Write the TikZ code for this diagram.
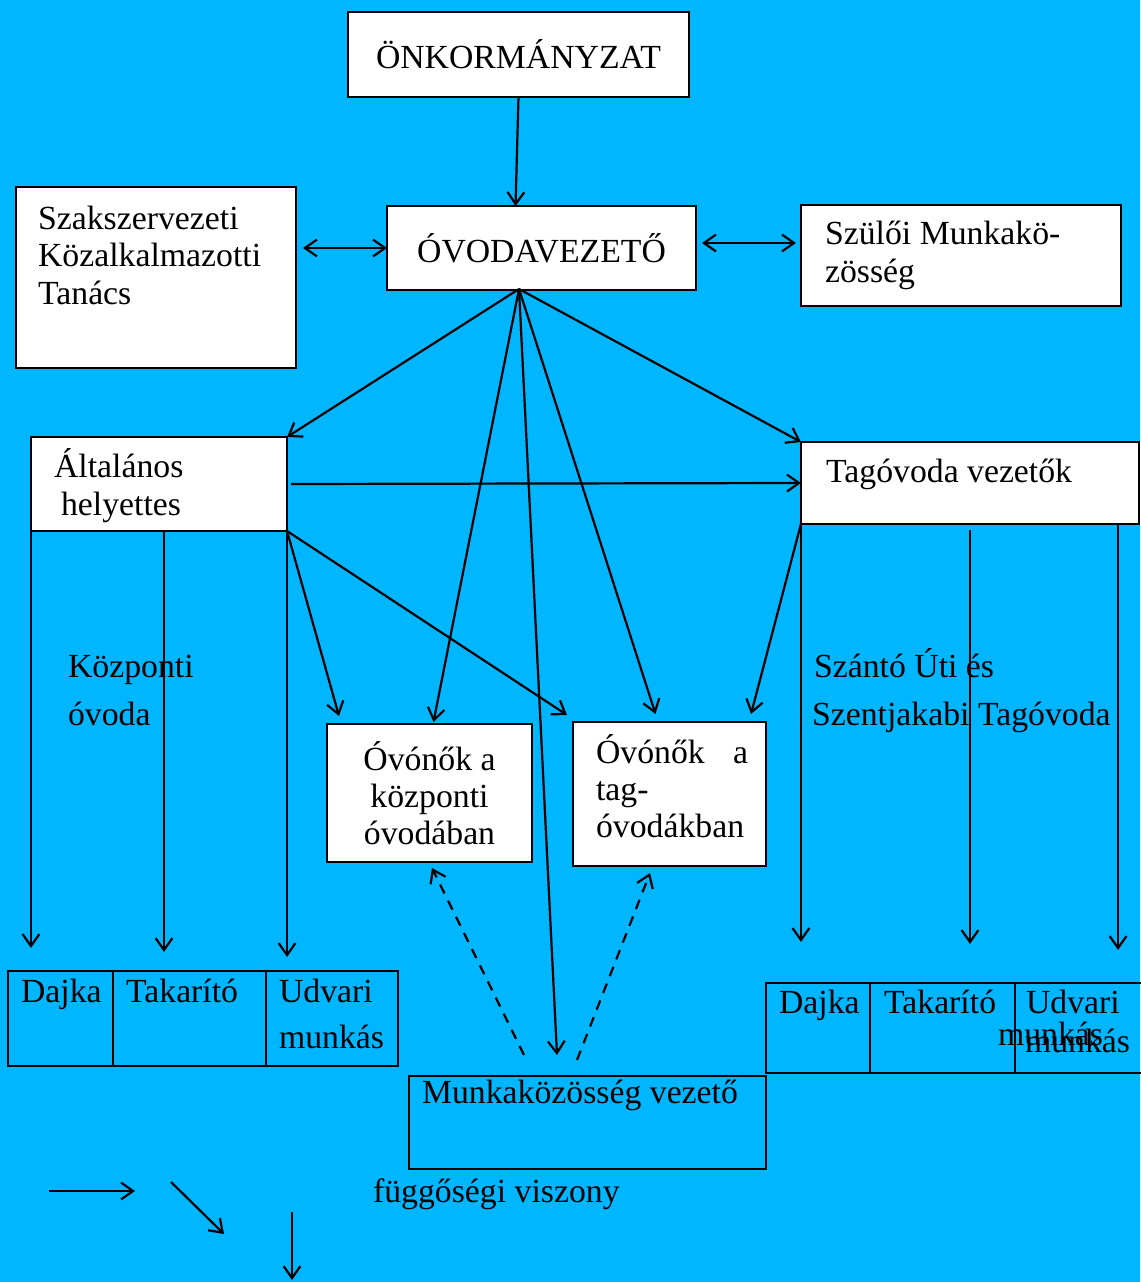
\documentclass[tikz,border=0pt]{standalone}
\usepackage{fontspec}
\setmainfont{Liberation Serif}
\usetikzlibrary{arrows.meta,positioning,calc}
\definecolor{bgcyan}{RGB}{0,182,255}

\begin{document}
\begin{tikzpicture}[x=0.025cm, y=-0.025cm, line width=0.055cm,
    >={Straight Barb[length=0.3cm,width=0.42cm]},
    font=\fontsize{24}{26.5}\selectfont,
    box/.style={draw, fill=white, inner sep=0pt, outer sep=0pt},
    cell/.style={draw, inner sep=0pt, outer sep=0pt},
    lbl/.style={inner sep=0pt, anchor=base west, align=left}]
    % Háttér
    \useasboundingbox (0,0) rectangle (1140,1282);
    \fill[bgcyan] (0,0) rectangle (1140,1282);

    % Dobozok
    \node[box, minimum width=8.525cm, minimum height=2.125cm] (onk) at (518.5,54.5) {ÖNKORMÁNYZAT};
    \node[box, minimum width=7.725cm, minimum height=2.1cm] (ovez) at (541.5,248) {ÓVODAVEZETŐ};
    \node[box, minimum width=7cm, minimum height=4.525cm] (szak) at (156,277.5) {};
    \node[lbl] (szakt) at (37,304) {Szakszervezeti\\Közalkalmazotti\\Tanács};
    \node[box, minimum width=8cm, minimum height=2.525cm] (szul) at (961,255.5) {};
    \node[lbl] (szult) at (824,282) {Szülői Munkakö-\\zösség};
    \node[box, minimum width=6.4cm, minimum height=2.35cm] (alt) at (159,484) {};
    \node[lbl] (altt) at (53,515) {Általános\\\hspace*{0.175cm}helyettes};
    \node[box, minimum width=8.45cm, minimum height=2.05cm] (tag) at (970,483) {};
    \node[lbl] (tagt) at (825,482) {Tagóvoda vezetők};
    \node[box, minimum width=5.125cm, minimum height=3.45cm, align=center] (ovk) at (429.5,793) {Óvónők a\\központi\\óvodában};
    \node[box, minimum width=4.825cm, minimum height=3.6cm] (ovt) at (669.5,794) {};
    \node[lbl, text width=3.8cm] (ovtt) at (595,763) {Óvónők\hfill a\\tag-\\óvodákban};

    % Táblák
    \node[cell, minimum width=2.625cm, minimum height=2.375cm] (dajk1) at (60.5,1018.5) {};
    \node[cell, minimum width=3.825cm, minimum height=2.375cm] (tak1) at (189.5,1018.5) {};
    \node[cell, minimum width=3.3cm, minimum height=2.375cm] (udv1) at (332,1018.5) {};
    \node[lbl] (dajk1t) at (20,1002) {Dajka};
    \node[lbl] (tak1t) at (125,1002) {Takarító};
    \node[lbl] (udv1t) at (278,1048) {Udvari\\[6pt]munkás};
    \node[cell, minimum width=2.6cm, minimum height=2.25cm] (dajk2) at (818,1028) {};
    \node[cell, minimum width=3.625cm, minimum height=2.25cm] (tak2) at (942.5,1028) {};
    \node[cell, minimum width=3.175cm, minimum height=2.25cm] (udv2) at (1078.5,1028) {};
    \node[lbl] (dajk2t) at (778,1013) {Dajka};
    \node[lbl] (tak2t) at (883,1013) {Takarító};
    \node[lbl] (udv2t) at (1025,1013) {Udvari};
    \node[lbl] (munk2a) at (997,1045) {munkás};
    \node[lbl] (munk2b) at (1024,1052) {munkás};
    \node[cell, minimum width=8.925cm, minimum height=2.325cm] (munka) at (587.5,1122.5) {};
    \node[lbl] (munkat) at (421,1103) {Munkaközösség vezető};

    % Szövegek
    \node[lbl] (kozp) at (67,725) {Központi\\[7.5pt]óvoda};
    \node[lbl] (szanto) at (813,677) {Szántó Úti és};
    \node[lbl] (szentj) at (811,725) {Szentjakabi Tagóvoda};
    \node[lbl] (fuggo) at (372,1202) {függőségi viszony};

    % Nyilak
    \coordinate (fan) at (519,289);
    \draw[->] (onk.south) -- ($(ovez.north)+(-26,0)$);
    \draw[<->, shorten <=0.175cm] (szak.east |- ovez.west) -- (ovez.west);
    \draw[<->, shorten <=0.15cm, shorten >=0.125cm] ($(ovez.east)+(0,-5)$) -- ($(ovez.east -| szul.west)+(0,-5)$);
    \draw[->] (fan) -- (alt.north east);
    \draw[->] (fan) -- ($(ovk.north)+(4,-2)$);
    \draw[->] (fan) -- ($(munka.north)+(-30.5,-21)$);
    \draw[->] (fan) -- ($(ovt.north)+(-14,-8)$);
    \draw[->] (fan) -- (tag.north west);
    \draw[->, shorten <=0.1cm] (alt.east) -- (tag.west);
    \draw[->] (alt.south east) -- ($(ovk.north west)+(12,-8)$);
    \draw[->] (alt.south east) -- ($(ovt.north west)+(-6,-7)$);
    \draw[->] (tag.south west) -- ($(ovt.north east)+(-15,-8)$);

    % Függőleges nyilak
    \coordinate (a2) at ($(alt.south)+(5,0)$);
    \coordinate (t2) at (tag.south);
    \coordinate (t3) at ($(tag.south east)+(-21,0)$);
    \draw[->, shorten >=0.575cm] (alt.south west) -- (alt.south west |- dajk1.north);
    \draw[->, shorten >=0.475cm] (a2) -- (a2 |- tak1.north);
    \draw[->, shorten >=0.35cm] (alt.south east) -- (alt.south east |- udv1.north);
    \draw[->, shorten >=1.025cm] (tag.south west) -- (tag.south west |- dajk2.north);
    \draw[->, shorten <=0.15cm, shorten >=0.975cm] (t2) -- (t2 |- tak2.north);
    \draw[->, shorten >=0.825cm] (t3) -- (t3 |- udv2.north);

    % Szaggatott
    \draw[->, dash pattern=on 0.25cm off 0.2cm] ($(munka.north)+(-63.5,-21)$) -- ($(ovk.south)+(2.5,6)$);
    \draw[->, dash pattern=on 0.25cm off 0.2cm] ($(munka.north)+(-10.5,-16)$) -- ($(ovt.south)+(-19.5,7)$);

    % Jelmagyarázat
    \coordinate (k1) at (49,1191);
    \coordinate (k2) at (135,1191);
    \coordinate (k3) at (171,1182);
    \coordinate (k4) at (224,1234);
    \coordinate (k5) at (292,1212);
    \coordinate (k6) at (292,1280);
    \draw[->] (k1) -- (k2);
    \draw[->] (k3) -- (k4);
    \draw[->] (k5) -- (k6);
\end{tikzpicture}
\end{document}
